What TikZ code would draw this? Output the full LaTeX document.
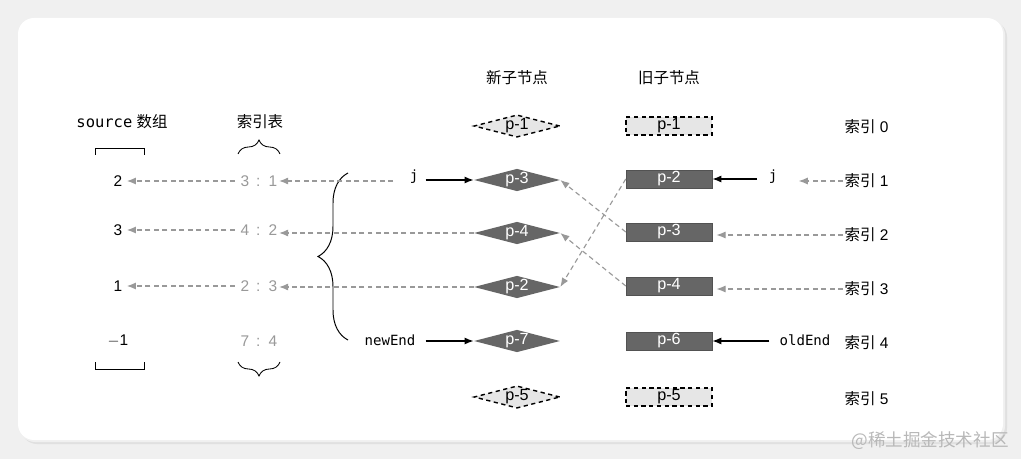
\documentclass[tikz,border=0pt]{standalone}
\usepackage{fontspec}
\setmainfont{Liberation Sans}
\setmonofont{DejaVu Sans Mono}
\newfontfamily\cjk{Noto Sans CJK SC}
\usetikzlibrary{shapes.geometric}
\usetikzlibrary{arrows.meta}
\usetikzlibrary{decorations.pathreplacing}
\definecolor{nodegray}{HTML}{666666}
\definecolor{ghostgray}{HTML}{E6E6E6}
\definecolor{linkgray}{HTML}{999999}
\definecolor{paper}{HTML}{F0F0F0}
\definecolor{markgray}{HTML}{B8B8B8}

\tikzset{
  txt/.style={font=\fontsize{11}{13}\selectfont, inner sep=1pt},
  code/.style={font=\ttfamily\fontsize{10}{12}\selectfont, inner sep=1pt},
  newnode/.style={diamond, aspect=4, inner sep=0pt, minimum width=2.15cm, minimum height=0.56cm,
    fill=nodegray, text=white, font=\fontsize{11.5}{13}\selectfont},
  oldnode/.style={rectangle, inner sep=0pt, minimum width=2.15cm, minimum height=0.45cm,
    fill=nodegray, draw=nodegray!80!black, line width=0.3pt, text=white, font=\fontsize{11.5}{13}\selectfont},
  ghost/.style={fill=ghostgray, text=black, draw=black, line width=1pt, dash pattern=on 3pt off 2.5pt},
  link/.style={linkgray, line width=0.8pt, dash pattern=on 3.5pt off 2.5pt, -{Latex[length=6.5pt,width=5pt]}},
  point/.style={black, line width=0.9pt, -{Latex[length=6.5pt,width=5pt]}},
  idx/.style={txt, text=linkgray},
}

\begin{document}
\begin{tikzpicture}[x=0.025cm, y=-0.025cm]

        % Background and card
        \useasboundingbox[fill=paper] (0,0) rectangle (1021,459);
        \fill[black!12, rounded corners=0.4cm] (21,21) rectangle (1007,444);
        \fill[black!6, rounded corners=0.4cm] (19,19) rectangle (1005,442);
        \fill[white, rounded corners=0.4cm] (18,18) rectangle (1003,440);

        % Headers
        \node[txt] (hsrc) at (122,122) {{\ttfamily source} {\cjk 数组}};
        \node[txt] (hidx) at (260,122) {\cjk 索引表};
        \node[txt] (hnew) at (517,78) {\cjk 新子节点};
        \node[txt] (hold) at (669,78) {\cjk 旧子节点};

        % Source array
        \draw[line width=0.6pt] (95,155) -- (95,148) -- (144,148) -- (144,155);
        \node[txt] (s1) at (118,181) {2};
        \node[txt] (s2) at (118,230) {3};
        \node[txt] (s3) at (118,286) {1};
        \node[txt] (s4) at (118,341) {$-$1};
        \draw[line width=0.6pt] (95,362) -- (95,369) -- (144,369) -- (144,362);

        % Index table
        \draw[line width=0.6pt, decorate, decoration={brace, amplitude=0.35cm}] (238,154) -- (280,154);
        \node[idx] (i1) at (259,181) {3 \,:\, 1};
        \node[idx] (i2) at (259,230) {4 \,:\, 2};
        \node[idx] (i3) at (259,286) {2 \,:\, 3};
        \node[idx] (i4) at (259,341) {7 \,:\, 4};
        \draw[line width=0.6pt, decorate, decoration={brace, amplitude=0.35cm}] (280,362) -- (238,362);

        % Big brace
        \draw[line width=0.7pt, decorate, decoration={brace, amplitude=0.75cm}] (348,340) -- (348,173);

        % New children
        \node[newnode, ghost] (np1) at (517,126) {p-1};
        \node[newnode] (np3) at (517,180) {p-3};
        \node[newnode] (np4) at (517,233) {p-4};
        \node[newnode] (np2) at (517,287) {p-2};
        \node[newnode] (np7) at (517,341) {p-7};
        \node[newnode, ghost] (np5) at (517,397) {p-5};

        % Old children
        \node[oldnode, ghost] (op1) at (669,126) {p-1};
        \node[oldnode] (op2) at (669,179) {p-2};
        \node[oldnode] (op3) at (669,232) {p-3};
        \node[oldnode] (op4) at (669,286) {p-4};
        \node[oldnode] (op6) at (669,341) {p-6};
        \node[oldnode, ghost] (op5) at (669,397) {p-5};

        % Index labels
        \node[txt, anchor=west] (r0) at (843,127) {{\cjk 索引} 0};
        \node[txt, anchor=west] (r1) at (843,181) {{\cjk 索引} 1};
        \node[txt, anchor=west] (r2) at (843,235) {{\cjk 索引} 2};
        \node[txt, anchor=west] (r3) at (843,289) {{\cjk 索引} 3};
        \node[txt, anchor=west] (r4) at (843,343) {{\cjk 索引} 4};
        \node[txt, anchor=west] (r5) at (843,399) {{\cjk 索引} 5};

        % Pointers
        \node[code] (jn) at (414,177) {j};
        \node[code] (ne) at (390,340) {newEnd};
        \node[code] (jo) at (773,177) {j};
        \node[code] (oe) at (805,340) {oldEnd};
        \draw[point] ([xshift=4]jn.east |- np3.west) -- (np3.west);
        \draw[point] ([xshift=6]ne.east |- np7.west) -- (np7.west);
        \draw[point] ([xshift=-7]jo.west |- op2.east) -- (op2.east);
        \draw[point] ([xshift=-6]oe.west |- op6.east) -- (op6.east);

        % Links into index table
        \coordinate (c1) at (393,181);
        \draw[link] (c1) -- (i1.east);
        \draw[link] (np4.west) -- (i2.east |- np4.west);
        \draw[link] (np2.west) -- (i3.east |- np2.west);
        \draw[link] ([xshift=-3]i1.west) -- ([xshift=2]s1.east);
        \draw[link] ([xshift=-3]i2.west) -- ([xshift=2]s2.east);
        \draw[link] ([xshift=-3]i3.west) -- ([xshift=2]s3.east);

        % Links between old and new
        \draw[link] (op2.west) -- (np2.east);
        \draw[link] (op3.west) -- (np3.east);
        \draw[link] (op4.west) -- (np4.east);

        % Links from index labels
        \draw[link] (r1.west) -- ([xshift=14]jo.east |- r1.west);
        \draw[link] (r2.west) -- ([xshift=3]op3.east |- r2.west);
        \draw[link] (r3.west) -- ([xshift=3]op4.east |- r3.west);

        % Watermark
        \node[font=\cjk\fontsize{12.5}{14}\selectfont, text=markgray] (wm) at (930,441) {@稀土掘金技术社区};

\end{tikzpicture}
\end{document}
